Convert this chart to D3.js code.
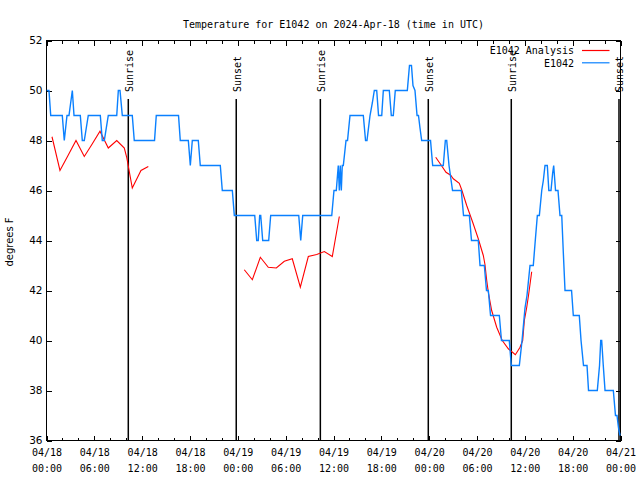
<!DOCTYPE html>
<html>
<head>
<meta charset="utf-8">
<script src="https://cdn.jsdelivr.net/npm/d3@7"></script>
<style>
  html, body { margin: 0; padding: 0; background: #fff; }
  svg { display: block; }
</style>
</head>
<body>
<div id="chart"></div>
<script>
// ---------------- data (hours since 2024-04-18 00:00 UTC, degrees F) ----------------
const titleText = "Temperature for E1042 on 2024-Apr-18 (time in UTC)";
const yLabelText = "degrees F";
const seriesNames = ["E1042 Analysis", "E1042"];

const xTickHours = [0, 6, 12, 18, 24, 30, 36, 42, 48, 54, 60, 66, 72];
const xTickDate  = ["04/18","04/18","04/18","04/18","04/19","04/19","04/19","04/19","04/20","04/20","04/20","04/20","04/21"];
const xTickTime  = ["00:00","06:00","12:00","18:00","00:00","06:00","12:00","18:00","00:00","06:00","12:00","18:00","00:00"];
const xMinorHours = d3.range(0, 73, 2);
const yTicks = [36, 38, 40, 42, 44, 46, 48, 50, 52];

const sunHours  = [10.26, 23.8, 34.35, 47.89, 58.3, 71.81];
const sunLabels = ["Sunrise", "Sunset", "Sunrise", "Sunset", "Sunrise", "Sunset"];

// E1042 observations
const obsHours = [0.03,0.31,0.53,1.98,2.23,2.57,2.82,3.24,3.45,4.24,4.49,4.74,4.99,5.24,6.75,7.00,7.25,7.75,8.81,9.01,9.22,9.51,
  10.76,11.01,13.55,13.77,16.56,16.78,17.79,18.04,18.29,19.04,19.29,21.80,22.05,23.31,23.56,26.12,26.37,26.56,26.74,26.87,27.12,
  27.87,28.12,31.64,31.89,32.14,35.78,36.06,36.35,36.60,36.73,36.85,36.98,37.10,37.23,37.57,37.76,38.07,39.74,40.02,40.20,40.58,
  40.87,41.12,41.42,41.65,42.05,42.25,43.00,43.25,43.50,43.75,45.26,45.53,45.78,45.97,46.22,46.48,46.66,46.85,47.06,48.17,48.44,
  49.77,50.03,50.20,50.49,50.93,52.03,52.31,53.04,53.31,54.16,54.38,54.92,55.19,55.42,55.70,56.80,57.07,58.05,58.30,59.31,59.65,
  60.02,60.27,60.65,61.06,61.31,61.57,61.82,62.12,62.32,62.53,62.82,63.01,63.28,63.49,63.62,63.85,64.16,64.41,64.63,64.83,65.04,
  65.86,66.08,66.83,67.05,67.36,67.80,67.99,69.09,69.37,69.52,69.64,69.84,70.06,71.10,71.37,71.56,71.75,71.94];
const obsTemps = [50,50,49,49,48,49,49,50,49,49,48,48,48.5,49,49,48,48,49,49,50,50,49,
  49,48,48,49,49,48,48,47,48,48,47,47,46,46,45,45,44,44,45,45,44,
  44,45,45,44,45,45,46,46,47,46,47,46,47,47,48,48,49,49,48,48,49,
  49.5,50,50,49,49,50,50,49,49,50,50,51,51,50.2,50,49,49,48.5,48,48,47,
  47,48,48,47,46,46,45,45,44,44,43,43,42,42,41,41,40,40,39,39,40,
  41.3,41.8,43,43,44,45,45,46,46.4,47,47,46,46,46.7,47,46,46,45,45,43.5,42,
  42,41,41,40,39,39,38,38,39,40,40,39,38,38,37,37,36.5,36.2];

// E1042 Analysis (null = gap)
const anaHours = [0.69,1.69,2.70,3.70,4.74,5.71,6.71,7.75,8.81,9.76,10.06,10.76,11.85,12.77,
  null,
  24.81,25.82,26.82,27.82,28.83,29.83,30.83,31.84,32.84,33.89,34.85,35.85,36.73,
  null,
  48.82,49.45,50.11,50.70,51.03,51.78,52.08,52.71,53.46,54.16,54.79,55.00,55.22,55.42,55.84,56.47,57.17,57.93,
  58.81,59.40,59.73,59.94,60.24,60.46,60.86];
const anaTemps = [48.15,46.8,47.4,48.0,47.36,47.85,48.37,47.7,48.0,47.7,47.33,46.1,46.8,46.96,
  null,
  42.83,42.43,43.33,42.93,42.9,43.17,43.27,42.13,43.36,43.44,43.56,43.36,44.96,
  null,
  47.33,47.04,46.73,46.61,46.47,46.29,46.03,45.4,44.73,44.07,43.4,43.04,42.4,41.93,41.2,40.53,40.0,39.67,
  39.43,39.73,40.0,40.8,41.33,41.8,42.75];

// ---------------- drawing ----------------
const W = 640, H = 480;
const pLeft = 46.5, pRight = 620.5, pTop = 40.5, pBottom = 440.5;
const colors = ["#ff0000", "#0a80ff"];
const mono = "'DejaVu Sans Mono', monospace";
const sans = "'DejaVu Sans', sans-serif";

const svg = d3.select("#chart").append("svg").attr("width", W).attr("height", H);

const x = d3.scaleLinear().domain([0, 72]).range([pLeft, pRight]);
const y = d3.scaleLinear().domain([36, 52]).range([pBottom, pTop]);

// title
svg.append("text").attr("x", 333.5).attr("y", 28)
  .attr("text-anchor", "middle").attr("font-family", mono).attr("font-size", 10)
  .text(titleText);

// y label
svg.append("text").attr("transform", `translate(13,242) rotate(-90)`)
  .attr("text-anchor", "middle").attr("font-family", sans).attr("font-size", 10)
  .text(yLabelText);

// axes: ticks inward on all four sides
function styleAxis(g) {
  g.select(".domain").remove();
  g.selectAll("line").attr("stroke", "#000").attr("shape-rendering", "crispEdges");
}
svg.append("g").attr("transform", `translate(0,${pBottom})`)
  .call(d3.axisBottom(x).tickValues(xMinorHours).tickSizeInner(-3).tickSizeOuter(0).tickFormat(""))
  .call(styleAxis);
svg.append("g").attr("transform", `translate(0,${pTop})`)
  .call(d3.axisTop(x).tickValues(xMinorHours).tickSizeInner(-3).tickSizeOuter(0).tickFormat(""))
  .call(styleAxis);
const xb = svg.append("g").attr("transform", `translate(0,${pBottom})`)
  .call(d3.axisBottom(x).tickValues(xTickHours).tickSizeInner(-5).tickSizeOuter(0).tickPadding(12)
    .tickFormat((d, i) => xTickDate[i]))
  .call(styleAxis);
xb.selectAll("text").attr("font-family", mono).attr("font-size", 10).attr("fill", "#000")
  .each(function(d, i) {
    const t = d3.select(this);
    t.text(null).attr("dy", null).attr("y", 15);
    t.append("tspan").attr("x", 0).attr("dy", 0).text(xTickDate[i]);
    t.append("tspan").attr("x", 0).attr("dy", 16).text(xTickTime[i]);
  });
svg.append("g").attr("transform", `translate(0,${pTop})`)
  .call(d3.axisTop(x).tickValues(xTickHours).tickSizeInner(-5).tickSizeOuter(0).tickFormat(""))
  .call(styleAxis);
const yl = svg.append("g").attr("transform", `translate(${pLeft},0)`)
  .call(d3.axisLeft(y).tickValues(yTicks).tickSizeInner(-5).tickSizeOuter(0).tickPadding(4))
  .call(styleAxis);
yl.selectAll("text").attr("font-family", sans).attr("font-size", 10.5).attr("fill", "#000");
svg.append("g").attr("transform", `translate(${pRight},0)`)
  .call(d3.axisRight(y).tickValues(yTicks).tickSizeInner(-5).tickSizeOuter(0).tickFormat(""))
  .call(styleAxis);

// border
svg.append("rect").attr("x", pLeft).attr("y", pTop).attr("width", pRight - pLeft).attr("height", pBottom - pTop)
  .attr("fill", "none").attr("stroke", "#000").attr("shape-rendering", "crispEdges");

// sunrise / sunset markers
const sun = svg.append("g");
sun.selectAll("line").data(sunHours).join("line")
  .attr("x1", d => x(d)).attr("x2", d => x(d))
  .attr("y1", 99).attr("y2", pBottom)
  .attr("stroke", "#000").attr("stroke-width", 1.5);
sun.selectAll("text").data(sunHours).join("text")
  .attr("transform", d => `translate(${x(d) + 4.5},92) rotate(-90)`)
  .attr("text-anchor", "start").attr("font-family", mono).attr("font-size", 10)
  .text((d, i) => sunLabels[i]);

// series
const anaData = anaHours.map((h, i) => ({h, t: anaTemps[i]}));
const obsData = obsHours.map((h, i) => ({h, t: obsTemps[i]}));
const line = d3.line().defined(d => d.h != null && d.t != null).x(d => x(d.h)).y(d => y(d.t));

svg.append("path").datum(anaData).attr("d", line)
  .attr("fill", "none").attr("stroke", colors[0]).attr("stroke-width", 1.1);
svg.append("path").datum(obsData).attr("d", line)
  .attr("fill", "none").attr("stroke", colors[1]).attr("stroke-width", 1.4);

// legend
const leg = svg.append("g");
seriesNames.forEach((name, i) => {
  const ly = 50.5 + i * 12.3;
  leg.append("text").attr("x", 574).attr("y", ly + 3.7)
    .attr("text-anchor", "end").attr("font-family", mono).attr("font-size", 10)
    .text(name);
  leg.append("line").attr("x1", 582).attr("x2", 609.5).attr("y1", ly).attr("y2", ly)
    .attr("stroke", colors[i]).attr("stroke-width", 1.2);
});
</script>
</body>
</html>
